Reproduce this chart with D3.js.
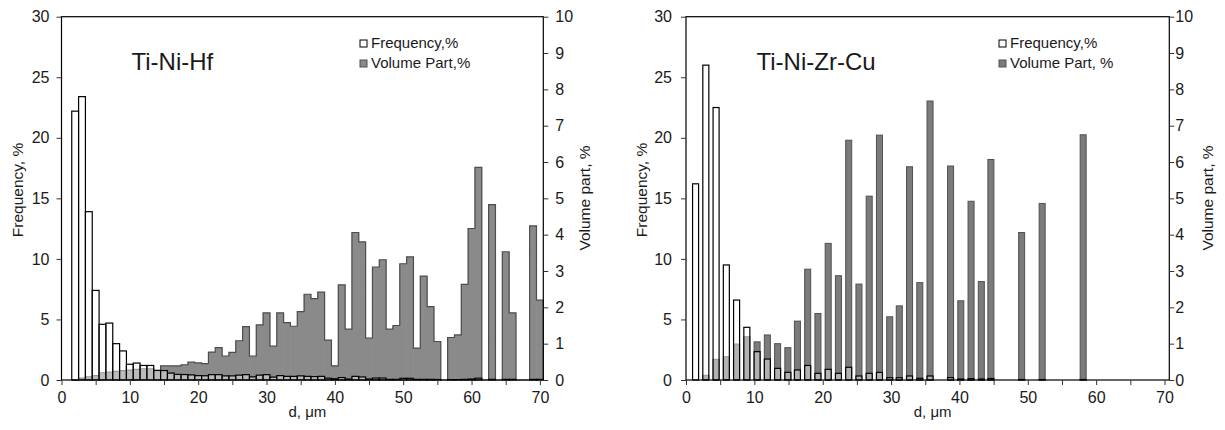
<!DOCTYPE html>
<html>
<head>
    <meta charset="utf-8">
    <script src="https://cdn.jsdelivr.net/npm/d3@7/dist/d3.min.js"></script>
    <style>
        body { margin: 0; background: white; }
        svg text { font-family: "Liberation Sans", Arial, sans-serif; fill: #1a1a1a; }
    </style>
</head>
<body>
    <script>
        // Ti-Ni-Hf: 1 um bins, d = 2..70
        const hfD = [2, 3, 4, 5, 6, 7, 8, 9, 10,
            11, 12, 13, 14, 15, 16, 17, 18, 19, 20,
            21, 22, 23, 24, 25, 26, 27, 28, 29, 30,
            31, 32, 33, 34, 35, 36, 37, 38, 39, 40,
            41, 42, 43, 44, 45, 46, 47, 48, 49, 50,
            51, 52, 53, 54, 55, 56, 57, 58, 59, 60,
            61, 62, 63, 64, 65, 66, 67, 68, 69, 70];
        const hfFreq = [22.2, 23.4, 13.9, 7.4, 4.6, 4.7, 3.0, 2.4, 1.3,
            1.4, 1.2, 1.2, 0.8, 0.78, 0.57, 0.46, 0.45, 0.42, 0.36,
            0.35, 0.44, 0.44, 0.34, 0.34, 0.4, 0.44, 0.26, 0.4, 0.44,
            0.24, 0.36, 0.3, 0.3, 0.34, 0.3, 0.28, 0.3, 0.15, 0.1,
            0.2, 0.08, 0.3, 0.25, 0.08, 0.16, 0.16, 0.05, 0.05, 0.14,
            0.14, 0.05, 0.05, 0.05, 0.04, 0, 0.03, 0.03, 0.05, 0.08,
            0.15, 0, 0.05, 0, 0.05, 0.05, 0, 0, 0.05, 0.05];
        const hfVol = [0, 0.05, 0.09, 0.12, 0.2, 0.22, 0.24, 0.26, 0.27,
            0.29, 0.31, 0.31, 0.26, 0.39, 0.39, 0.39, 0.42, 0.49, 0.47,
            0.45, 0.77, 0.89, 0.66, 0.76, 1.08, 1.47, 0.66, 1.52, 1.85,
            0.93, 1.85, 1.58, 1.48, 1.88, 2.36, 2.24, 2.42, 1.1, 0.39,
            2.62, 1.4, 4.06, 3.8, 1.15, 3.11, 3.31, 1.4, 1.5, 3.2,
            3.39, 0.88, 2.86, 2.02, 1.06, 0, 1.17, 1.24, 2.63, 4.17,
            5.85, 0, 4.83, 0, 3.53, 1.85, 0, 0, 4.24, 2.2];

        // Ti-Ni-Zr-Cu: ~1.5 um bins (only the bins that have bars)
        const cuD = [1.4, 2.9, 4.4, 5.9, 7.4, 8.9, 10.4, 11.9, 13.4, 14.9,
            16.3, 17.8, 19.3, 20.8, 22.3, 23.8, 25.3, 26.8, 28.3, 29.8,
            31.2, 32.7, 34.2, 35.7, 38.7, 40.2, 41.7, 43.2, 44.6, 49.1,
            52.1, 58.1];
        const cuFreq = [16.2, 26.0, 22.5, 9.5, 6.6, 4.35, 2.34, 1.73, 0.96, 0.63,
            0.83, 1.2, 0.55, 0.88, 0.55, 1.05, 0.33, 0.55, 0.63, 0.19,
            0.19, 0.33, 0.14, 0.33, 0.2, 0.08, 0.11, 0.08, 0.12, 0.04,
            0.04, 0.04];
        const cuVol = [0, 0.13, 0.57, 0.64, 0.99, 1.19, 1.05, 1.24, 1.0, 0.89,
            1.62, 3.05, 1.83, 3.76, 2.87, 6.6, 2.64, 5.06, 6.74, 1.74,
            2.04, 5.87, 2.68, 7.68, 5.89, 2.18, 4.92, 2.71, 6.07, 4.06,
            4.86, 6.75];

        const freqTicks = [0, 5, 10, 15, 20, 25, 30];
        const volTicks = [0, 1, 2, 3, 4, 5, 6, 7, 8, 9, 10];
        const dTicks = [0, 5, 10, 15, 20, 25, 30, 35, 40, 45, 50, 55, 60, 65, 70];

        const width = 1225, height = 430;
        const plotTop = 16.7, plotBottom = 380;

        const svg = d3.select("body").append("svg")
            .attr("width", width)
            .attr("height", height);

        const panels = [
            {
                title: "Ti-Ni-Hf", d: hfD, freq: hfFreq, vol: hfVol,
                left: 61.5, right: 543.3, xMax: 70.5, barWidth: 1,
                volFill: "#8a8a8a", stepOutline: true,
                padL: 7, padR: 7, titleX: 131.5,
                legendX: 360, legendVol: "Volume Part,%",
                yLabelL: 17.5, yLabelR: 585
            },
            {
                title: "Ti-Ni-Zr-Cu", d: cuD, freq: cuFreq, vol: cuVol,
                left: 686, right: 1169.3, xMax: 70.7, barWidth: 0.88,
                volFill: "#7b7b7b", stepOutline: false,
                padL: 9, padR: 1, titleX: 756.5,
                legendX: 999, legendVol: "Volume Part, %",
                yLabelL: 641.5, yLabelR: 1208
            }
        ];

        panels.forEach(p => {
            const x = d3.scaleLinear().domain([0, p.xMax]).range([p.left, p.right]);
            const yF = d3.scaleLinear().domain([0, 30]).range([plotBottom, plotTop]);
            const yV = d3.scaleLinear().domain([0, 10]).range([plotBottom, plotTop]);
            const bw = x(p.barWidth) - x(0);
            // contiguous bars overlap a hair so no seams show
            const extra = p.stepOutline ? 0.6 : 0;
            const rows = p.d.map((d, i) => ({ d: d, f: p.freq[i], v: p.vol[i] }));
            const g = svg.append("g");

            // volume part bars (right axis)
            g.selectAll(".vol")
                .data(rows.filter(r => r.v > 0))
                .join("rect")
                .attr("class", "vol")
                .attr("x", r => x(r.d) - bw / 2 - extra / 2)
                .attr("y", r => yV(r.v))
                .attr("width", bw + extra)
                .attr("height", r => yV(0) - yV(r.v))
                .attr("fill", p.volFill)
                .attr("stroke", p.stepOutline ? "none" : "#505050")
                .attr("stroke-width", 1);

            // contiguous bars: outline only the silhouette
            if (p.stepOutline) {
                const pts = [[rows[0].d - p.barWidth / 2, 0]]
                    .concat(rows.map(r => [r.d - p.barWidth / 2, r.v]))
                    .concat([[rows[rows.length - 1].d + p.barWidth / 2, 0]]);
                const step = d3.line()
                    .x(q => x(q[0]))
                    .y(q => yV(q[1]))
                    .curve(d3.curveStepAfter);
                g.append("path")
                    .attr("d", step(pts))
                    .attr("fill", "none")
                    .attr("stroke", "#4d4d4d")
                    .attr("stroke-width", 1.2);
            }

            // frequency bars (left axis), see-through white
            g.selectAll(".freq")
                .data(rows.filter(r => r.f > 0))
                .join("rect")
                .attr("class", "freq")
                .attr("x", r => x(r.d) - bw / 2)
                .attr("y", r => yF(r.f))
                .attr("width", bw)
                .attr("height", r => yF(0) - yF(r.f))
                .attr("fill", "white")
                .attr("fill-opacity", 0.42)
                .attr("stroke", "black")
                .attr("stroke-width", 1.2);

            // frame
            g.append("rect")
                .attr("x", p.left)
                .attr("y", plotTop)
                .attr("width", p.right - p.left)
                .attr("height", plotBottom - plotTop)
                .attr("fill", "none")
                .attr("stroke", "black")
                .attr("stroke-width", 1.2);

            const axL = g.append("g")
                .attr("transform", `translate(${p.left},0)`)
                .call(d3.axisLeft(yF).tickValues(freqTicks).tickSize(5).tickPadding(p.padL));
            const axR = g.append("g")
                .attr("transform", `translate(${p.right},0)`)
                .call(d3.axisRight(yV).tickValues(volTicks).tickSize(5).tickPadding(p.padR));
            const axB = g.append("g")
                .attr("transform", `translate(0,${plotBottom})`)
                .call(d3.axisBottom(x).tickValues(dTicks).tickSize(5).tickPadding(7)
                    .tickFormat(v => v % 10 === 0 ? v : ""));

            [axL, axR, axB].forEach(a => {
                a.select(".domain").remove();
                a.selectAll("text").attr("font-size", 16).attr("font-family", null);
                a.selectAll("line").attr("stroke", "#333");
            });

            // titles and labels
            g.append("text")
                .attr("x", p.titleX)
                .attr("y", 70)
                .attr("font-size", 24)
                .text(p.title);

            g.append("text")
                .attr("transform", `translate(${p.yLabelL},190) rotate(-90)`)
                .attr("text-anchor", "middle")
                .attr("dy", "0.35em")
                .attr("font-size", 15.5)
                .text("Frequency, %");

            g.append("text")
                .attr("transform", `translate(${p.yLabelR},198) rotate(-90)`)
                .attr("text-anchor", "middle")
                .attr("dy", "0.35em")
                .attr("font-size", 15.5)
                .text("Volume part, %");

            g.append("text")
                .attr("x", (p.left + p.right) / 2 + 5)
                .attr("y", 417)
                .attr("text-anchor", "middle")
                .attr("font-size", 15)
                .text("d, \u03bcm");

            // legend
            const legend = g.append("g");
            legend.append("rect")
                .attr("x", p.legendX).attr("y", 40)
                .attr("width", 7).attr("height", 7)
                .attr("fill", "white").attr("stroke", "black");
            legend.append("rect")
                .attr("x", p.legendX).attr("y", 60)
                .attr("width", 7).attr("height", 7)
                .attr("fill", p.volFill).attr("stroke", "#505050");
            legend.append("text")
                .attr("x", p.legendX + 11).attr("y", 48)
                .attr("font-size", 15)
                .text("Frequency,%");
            legend.append("text")
                .attr("x", p.legendX + 11).attr("y", 68)
                .attr("font-size", 15)
                .text(p.legendVol);
        });
    </script>
</body>
</html>
